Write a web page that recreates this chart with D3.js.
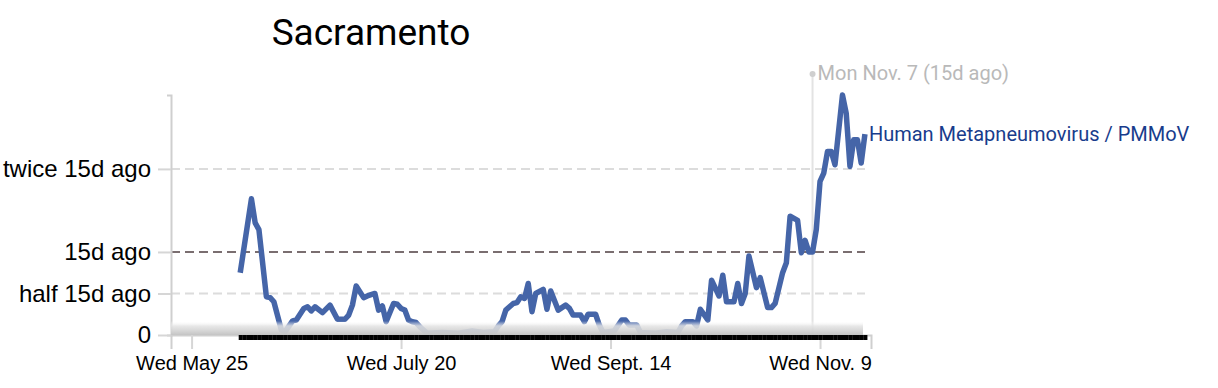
<!DOCTYPE html>
<html>
<head>
<meta charset="utf-8">
<script src="https://cdn.jsdelivr.net/npm/d3@7"></script>
<style>
body { margin: 0; background: #fff; }
svg { display: block; font-family: Helvetica, "Liberation Sans", Arial, sans-serif; }
</style>
</head>
<body>
<svg id="chart" width="1218" height="388"></svg>
<script>
// values are relative to the Nov. 7 reading (15 days before the last sample)
var dates = [
  "2022-06-07", "2022-06-10", "2022-06-11", "2022-06-12", "2022-06-14", "2022-06-15", "2022-06-16",
  "2022-06-18", "2022-06-19", "2022-06-21", "2022-06-22", "2022-06-24", "2022-06-25", "2022-06-26",
  "2022-06-27", "2022-06-29", "2022-07-01", "2022-07-03", "2022-07-05", "2022-07-06", "2022-07-07",
  "2022-07-08", "2022-07-10", "2022-07-11", "2022-07-13", "2022-07-14", "2022-07-15", "2022-07-16",
  "2022-07-18", "2022-07-19", "2022-07-20", "2022-07-21", "2022-07-22", "2022-07-23", "2022-07-24",
  "2022-07-25", "2022-07-27", "2022-07-31", "2022-08-04", "2022-08-08", "2022-08-11", "2022-08-14",
  "2022-08-15", "2022-08-16", "2022-08-17", "2022-08-19", "2022-08-20", "2022-08-21", "2022-08-22",
  "2022-08-23", "2022-08-24", "2022-08-25", "2022-08-27", "2022-08-28", "2022-08-29", "2022-08-31",
  "2022-09-02", "2022-09-03", "2022-09-04", "2022-09-06", "2022-09-07", "2022-09-08", "2022-09-10",
  "2022-09-11", "2022-09-12", "2022-09-15", "2022-09-17", "2022-09-18", "2022-09-19", "2022-09-21",
  "2022-09-22", "2022-09-26", "2022-09-29", "2022-10-02", "2022-10-03", "2022-10-04", "2022-10-06",
  "2022-10-07", "2022-10-08", "2022-10-10", "2022-10-11", "2022-10-13", "2022-10-14", "2022-10-15",
  "2022-10-17", "2022-10-18", "2022-10-19", "2022-10-20", "2022-10-21", "2022-10-23", "2022-10-24",
  "2022-10-26", "2022-10-27", "2022-10-28", "2022-10-30", "2022-10-31", "2022-11-01", "2022-11-03",
  "2022-11-04", "2022-11-05", "2022-11-06", "2022-11-07", "2022-11-08", "2022-11-09", "2022-11-10",
  "2022-11-11", "2022-11-12", "2022-11-13", "2022-11-15", "2022-11-16", "2022-11-17", "2022-11-18",
  "2022-11-19", "2022-11-20", "2022-11-21"
];
var values = [
  0.75, 1.64, 1.35, 1.27, 0.46, 0.45, 0.40,
  0.06, 0.04, 0.17, 0.18, 0.32, 0.34, 0.29,
  0.34, 0.27, 0.36, 0.19, 0.19, 0.24, 0.36,
  0.59, 0.45, 0.47, 0.50, 0.30, 0.35, 0.16,
  0.38, 0.37, 0.32, 0.30, 0.18, 0.16, 0.15,
  0.10, 0.02, 0.03, 0.02, 0.05, 0.03, 0.04,
  0.11, 0.16, 0.30, 0.38, 0.39, 0.46, 0.44,
  0.62, 0.28, 0.50, 0.55, 0.31, 0.53, 0.30,
  0.36, 0.32, 0.24, 0.24, 0.16, 0.25, 0.25,
  0.12, 0.03, 0.05, 0.18, 0.18, 0.12, 0.12,
  0.03, 0.02, 0.04, 0.03, 0.11, 0.16, 0.16,
  0.11, 0.31, 0.18, 0.66, 0.47, 0.72, 0.40,
  0.40, 0.62, 0.38, 0.50, 0.95, 0.57, 0.69,
  0.33, 0.33, 0.38, 0.75, 0.87, 1.43, 1.38,
  0.99, 1.14, 1.00, 1.00, 1.27, 1.85, 1.95,
  2.21, 2.21, 2.05, 2.89, 2.67, 2.03, 2.35,
  2.35, 2.07, 2.42
];
var yTickValues = [0, 0.5, 1, 2];
var yTickLabels = ["0", "half 15d ago", "15d ago", "twice 15d ago"];
var xTickDates = ["2022-05-25", "2022-07-20", "2022-09-14", "2022-11-09"];
var xTickLabels = ["Wed May 25", "Wed July 20", "Wed Sept. 14", "Wed Nov. 9"];
var refDate = "2022-11-07";
var refLabel = "Mon Nov. 7 (15d ago)";
var seriesName = "Human Metapneumovirus / PMMoV";
var title = "Sacramento";

var parseDay = d3.timeParse("%Y-%m-%d"),
    parseTime = d3.timeParse("%Y-%m-%d %H:%M");

var data = dates.map(function (d, i) { return { date: parseDay(d), value: values[i] }; });

var svg = d3.select("#chart"),
    x = d3.scaleTime()
        .domain([parseTime("2022-05-19 12:00"), parseTime("2022-11-22 15:00")])
        .range([171, 871]),
    y = d3.scaleLinear()
        .domain([0, d3.max(values)])
        .range([335, 95]);

// fading band at the bottom of the plot
var defs = svg.append("defs");
var grad = defs.append("linearGradient").attr("id", "fade")
    .attr("x1", 0).attr("y1", 0).attr("x2", 0).attr("y2", 1);
grad.append("stop").attr("offset", 0).attr("stop-color", "#fff").attr("stop-opacity", 0);
grad.append("stop").attr("offset", 0.35).attr("stop-color", "#e4e4e4").attr("stop-opacity", 0.85);
grad.append("stop").attr("offset", 1).attr("stop-color", "#c4c4c4").attr("stop-opacity", 1);

// title
svg.append("text")
    .attr("x", 371).attr("y", 45)
    .attr("text-anchor", "middle")
    .style("font-family", "Roboto, sans-serif")
    .style("font-size", "37px")
    .attr("fill", "#000")
    .text(title);

// dashed reference lines
svg.append("g").selectAll("line")
    .data(yTickValues.filter(function (v) { return v > 0; }))
    .join("line")
    .attr("x1", 171).attr("x2", 865)
    .attr("y1", function (d) { return y(d); })
    .attr("y2", function (d) { return y(d); })
    .attr("stroke", function (d) { return d === 1 ? "#7a6e70" : "#dcdcdc"; })
    .attr("stroke-width", 2)
    .attr("stroke-dasharray", "9,5");

// the "15d ago" marker
var rx = x(parseDay(refDate));
svg.append("line")
    .attr("x1", rx).attr("x2", rx)
    .attr("y1", 74).attr("y2", y(0))
    .attr("stroke", "#e3e3e3").attr("stroke-width", 2);
svg.append("circle").attr("cx", rx).attr("cy", 74).attr("r", 3).attr("fill", "#cfcfcf");
svg.append("text")
    .attr("x", rx + 5).attr("y", 80)
    .style("font-family", "Roboto, sans-serif")
    .style("font-size", "20px")
    .attr("fill", "#b9b9b9")
    .text(refLabel);

// y axis
var yAxis = svg.append("g")
    .attr("transform", "translate(171,0)")
    .call(d3.axisLeft(y)
        .tickValues(yTickValues)
        .tickFormat(function (d, i) { return yTickLabels[i]; })
        .tickSizeInner(13).tickSizeOuter(4).tickPadding(7));
yAxis.select(".domain").attr("stroke", "#cfcfcf").attr("stroke-width", 2);
yAxis.selectAll(".tick line").attr("stroke", "#d6d6d6").attr("stroke-width", 2);
yAxis.selectAll(".tick text").attr("fill", "#000").style("font-size", "24px")
    .style("font-family", "Helvetica, 'Liberation Sans', Arial, sans-serif");

// x axis
var xAxis = svg.append("g")
    .attr("transform", "translate(0,335)")
    .call(d3.axisBottom(x)
        .tickValues(xTickDates.map(parseDay))
        .tickFormat(function (d, i) { return xTickLabels[i]; })
        .tickSize(14).tickPadding(7));
xAxis.select(".domain").attr("stroke", "#cfcfcf").attr("stroke-width", 2);
xAxis.selectAll(".tick line").attr("stroke", "#d6d6d6").attr("stroke-width", 2);
xAxis.selectAll(".tick text").attr("fill", "#000").style("font-size", "20px")
    .style("font-family", "Helvetica, 'Liberation Sans', Arial, sans-serif");

// the series
var line = d3.line()
    .x(function (d) { return x(d.date); })
    .y(function (d) { return y(d.value); });
svg.append("path")
    .datum(data)
    .attr("d", line)
    .attr("fill", "none")
    .attr("stroke", "#4565a8")
    .attr("stroke-width", 5.5)
    .attr("stroke-linejoin", "round");

svg.append("rect")
    .attr("x", 171).attr("y", 321)
    .attr("width", 692).attr("height", 14)
    .attr("fill", "url(#fade)");

// one black tick per day of the sampled period
var first = data[0].date, last = data[data.length - 1].date;
var rug = svg.append("g")
    .attr("transform", "translate(0,335)")
    .call(d3.axisBottom(x)
        .tickValues(d3.timeDay.range(first, d3.timeDay.offset(last, 1)))
        .tickFormat("")
        .tickSize(5).tickSizeOuter(0));
rug.select(".domain").remove();
rug.selectAll(".tick line").attr("stroke", "#000").attr("stroke-width", 4);

// series label
var end = data[data.length - 1];
svg.append("text")
    .attr("x", x(end.date) + 4).attr("y", y(end.value) + 7)
    .style("font-family", "Roboto, sans-serif")
    .style("font-size", "20px")
    .attr("fill", "#183c8c")
    .text(seriesName);
</script>
</body>
</html>
